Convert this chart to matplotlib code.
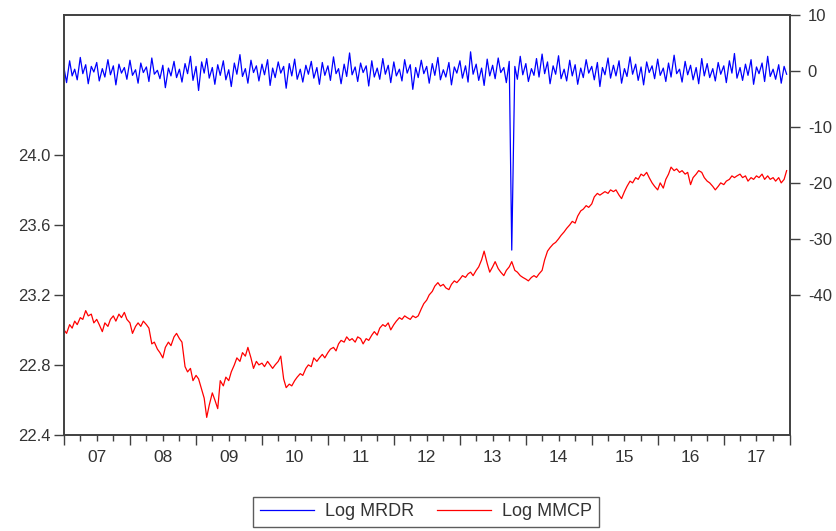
import matplotlib
matplotlib.use("Agg")
import matplotlib.pyplot as plt
import matplotlib.dates as mdates
import pandas as pd

plt.rcParams["font.family"] = ["Liberation Sans", "DejaVu Sans"]

# semi-monthly readings, Jan 2007 - Dec 2017, one row per half year
log_mmcp = [
    23.00, 22.98, 23.03, 23.01, 23.05, 23.03, 23.07, 23.06, 23.11, 23.08, 23.09, 23.04,
    23.06, 23.03, 22.99, 23.04, 23.02, 23.06, 23.08, 23.05, 23.09, 23.07, 23.10, 23.06,
    23.04, 22.98, 23.02, 23.04, 23.02, 23.05, 23.03, 23.01, 22.92, 22.93, 22.89, 22.87,
    22.84, 22.90, 22.93, 22.91, 22.96, 22.98, 22.95, 22.93, 22.79, 22.76, 22.78, 22.71,
    22.74, 22.72, 22.66, 22.61, 22.50, 22.57, 22.64, 22.60, 22.55, 22.71, 22.68, 22.73,
    22.71, 22.76, 22.80, 22.84, 22.82, 22.87, 22.85, 22.90, 22.84, 22.78, 22.82, 22.80,
    22.81, 22.79, 22.82, 22.80, 22.78, 22.80, 22.82, 22.85, 22.72, 22.67, 22.69, 22.68,
    22.71, 22.73, 22.75, 22.74, 22.78, 22.80, 22.79, 22.84, 22.82, 22.84, 22.86, 22.84,
    22.87, 22.89, 22.90, 22.88, 22.92, 22.94, 22.93, 22.96, 22.94, 22.95, 22.93, 22.96,
    22.95, 22.92, 22.95, 22.94, 22.97, 22.99, 22.97, 23.01, 23.03, 23.02, 23.04, 23.00,
    23.03, 23.05, 23.07, 23.06, 23.08, 23.07, 23.06, 23.08, 23.07, 23.08, 23.12, 23.15,
    23.17, 23.20, 23.22, 23.25, 23.27, 23.25, 23.26, 23.24, 23.23, 23.26, 23.28, 23.27,
    23.29, 23.31, 23.30, 23.32, 23.33, 23.31, 23.34, 23.36, 23.40, 23.45, 23.38, 23.33,
    23.36, 23.39, 23.35, 23.33, 23.31, 23.34, 23.36, 23.39, 23.34, 23.33, 23.31, 23.30,
    23.29, 23.28, 23.30, 23.31, 23.30, 23.32, 23.34, 23.40, 23.45, 23.47, 23.49, 23.50,
    23.52, 23.54, 23.56, 23.58, 23.60, 23.62, 23.61, 23.65, 23.68, 23.69, 23.71, 23.70,
    23.72, 23.76, 23.78, 23.77, 23.78, 23.79, 23.78, 23.80, 23.79, 23.80, 23.77, 23.75,
    23.79, 23.82, 23.85, 23.84, 23.87, 23.86, 23.89, 23.88, 23.90, 23.87, 23.84, 23.82,
    23.80, 23.84, 23.81, 23.86, 23.89, 23.93, 23.91, 23.92, 23.90, 23.91, 23.89, 23.90,
    23.83, 23.87, 23.89, 23.91, 23.90, 23.87, 23.85, 23.84, 23.82, 23.80, 23.82, 23.84,
    23.83, 23.85, 23.86, 23.88, 23.87, 23.88, 23.89, 23.87, 23.88, 23.85, 23.87, 23.86,
    23.88, 23.87, 23.89, 23.86, 23.88, 23.86, 23.87, 23.85, 23.87, 23.84, 23.86, 23.91,
]

log_mrdr = [
    0.5, -2.1, 1.8, -0.9, 0.3, -1.6, 2.4, -0.5, 1.1, -2.3, 0.8, -0.2,
    1.5, -1.8, 0.4, -1.1, 2.0, -0.7, 0.9, -2.5, 1.2, -0.4, 0.6, -1.5,
    1.9, -0.8, 0.2, -2.2, 1.4, -0.3, 0.7, -1.9, 2.3, -0.6, 0.1, -1.4,
    1.0, -3.0, 0.5, -0.9, 1.7, -1.2, 0.3, -2.0, 1.3, -0.5, 2.6, -1.7,
    0.8, -3.5, 1.6, -0.4, 2.2, -1.3, 0.6, -2.4, 1.1, -0.8, 1.8, -1.6,
    0.2, -2.8, 1.4, -0.6, 2.9, -1.0, 0.4, -2.2, 1.9, -0.3, 0.9, -1.8,
    1.2, -0.7, 2.0, -2.6, 0.5, -1.2, 1.6, -0.4, 0.8, -3.1, 1.3, -0.9,
    2.1, -1.5, 0.3, -2.0, 1.0, -0.6, 1.7, -1.3, 0.6, -2.4, 1.5, -0.8,
    0.9, -1.7, 2.5, -0.5, 0.4, -2.3, 1.2, -1.0, 3.2, -0.7, 0.7, -1.9,
    1.4, -0.3, 0.9, -2.7, 1.8, -1.1, 0.5, -1.5, 2.2, -0.6, 1.0, -2.1,
    1.6, -0.9, 0.3, -1.8, 2.0, -0.4, 1.1, -3.3, 0.6, -1.2, 1.9, -0.5,
    0.8, -2.2, 1.3, -0.8, 2.4, -1.6, 0.2, -1.1, 1.5, -2.5, 0.7, -0.4,
    1.8, -1.3, 0.9, -2.0, 3.4, -0.6, 1.2, -1.7, 0.5, -2.6, 2.1, -0.9,
    1.0, -1.4, 2.3, -0.3, 0.6, -2.1, 1.7, -32.0, 0.8, -1.5, 2.6, -0.7,
    1.3, -1.9, 0.4, -0.8, 2.2, -1.1, 3.0, -0.5, 1.6, -2.3, 0.9, -0.6,
    2.7, -1.4, 0.3, -1.8, 1.9, -0.9, 1.1, -2.4, 0.5, -1.2, 2.0, -0.4,
    0.8, -1.6, 1.5, -2.8, 0.6, -0.7, 2.3, -1.3, 1.0, -0.9, 1.8, -2.2,
    0.4, -1.0, 2.5, -0.6, 1.2, -1.7, 0.7, -2.5, 1.6, -0.3, 0.9, -1.4,
    2.1, -0.8, 0.5, -1.9, 1.4, -1.1, 2.8, -0.5, 0.3, -2.0, 1.7, -0.7,
    1.0, -1.6, 0.6, -2.3, 2.2, -0.9, 1.3, -1.2, 0.4, -1.8, 1.5, -0.6,
    0.9, -2.1, 1.8, -0.4, 3.1, -1.3, 0.6, -1.7, 1.2, -0.8, 2.0, -2.4,
    0.7, -0.5, 1.4, -1.9, 2.6, -1.0, 0.3, -1.5, 1.1, -2.2, 0.8, -0.6,
]

years = list(range(2007, 2018))
year_labels = ["07", "08", "09", "10", "11", "12", "13", "14", "15", "16", "17"]
left_ticks = [22.4, 22.8, 23.2, 23.6, 24.0]
right_ticks = [10, 0, -10, -20, -30, -40]

dates = pd.date_range("2007-01-01", periods=len(log_mmcp), freq="SMS")

fig = plt.figure(figsize=(8.37, 5.31), dpi=100)
ax = fig.add_axes([0.0765, 0.181, 0.867, 0.791])
ax2 = ax.twinx()

frame = "#404040"
txt = "#333333"

red_line, = ax.plot(dates, log_mmcp, color="#ff0000", lw=0.9, label="Log MMCP")
blue_line, = ax2.plot(dates, log_mrdr, color="#0000ff", lw=0.9, label="Log MRDR")

ax.set_xlim(pd.Timestamp("2007-01-01"), pd.Timestamp("2018-01-01"))
ax.set_ylim(22.4, 24.8)
ax2.set_ylim(-65, 10)

ax.set_yticks(left_ticks, [f"{v:.1f}" for v in left_ticks])
ax2.set_yticks(right_ticks, [str(v) for v in right_ticks])

ax.xaxis.set_major_locator(mdates.YearLocator())
ax.xaxis.set_minor_locator(mdates.MonthLocator(bymonth=(4, 7, 10)))
ax.xaxis.set_major_formatter(plt.NullFormatter())
ax.tick_params(axis="x", which="major", length=7, width=1, color=frame)
ax.tick_params(axis="x", which="minor", length=4, width=1, color=frame)
ax.tick_params(axis="y", length=7, width=1, color=frame, labelsize=12, labelcolor=txt, pad=3)
ax2.tick_params(axis="y", length=7, width=1, color=frame, labelsize=12, labelcolor=txt, pad=6)

# year labels sit in the middle of each year
for yr, lab in zip(years, year_labels):
    ax.text(pd.Timestamp(f"{yr}-07-01"), -0.055, lab, transform=ax.get_xaxis_transform(),
            ha="center", va="center", fontsize=12.5, color=txt)

for a in (ax, ax2):
    for sp in a.spines.values():
        sp.set_color(frame)
        sp.set_linewidth(1.2)

leg = fig.legend(handles=[blue_line, red_line], loc="center", ncol=2,
                 bbox_to_anchor=(0.509, 0.036), fontsize=13, frameon=True,
                 fancybox=False, edgecolor="#333333", handlelength=3.0,
                 columnspacing=1.3, borderpad=0.35, handletextpad=0.6)
leg.get_frame().set_linewidth(1.0)
for t in leg.get_texts():
    t.set_color(txt)

fig.savefig("out.png", dpi=100)
